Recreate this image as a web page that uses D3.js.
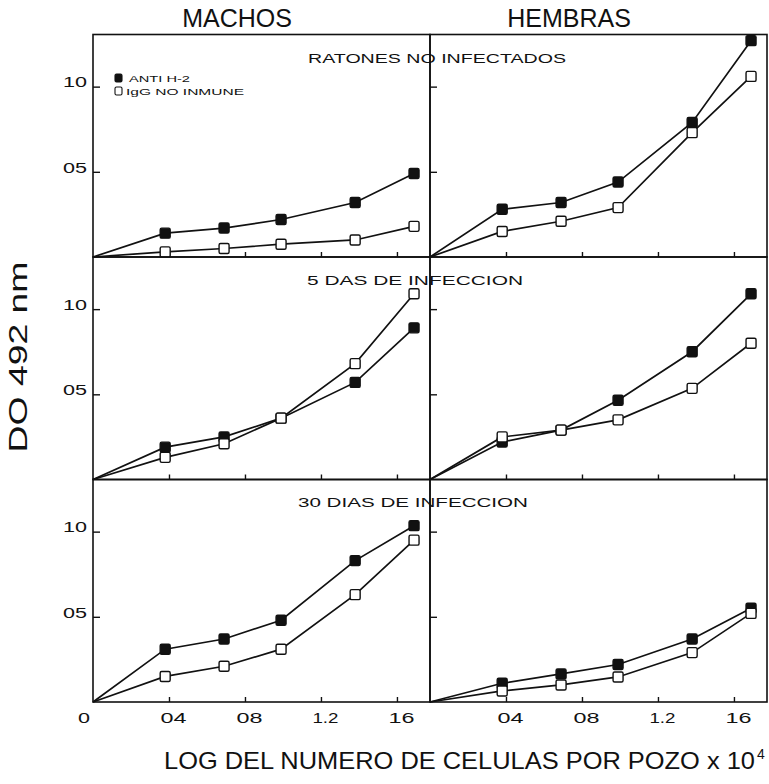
<!DOCTYPE html>
<html lang="es">

<head>
    <title>DO 492 nm</title>
    <meta charset="utf-8" />
    <script src="https://d3js.org/d3.v7.min.js"></script>
    <style>
        body,
        html {
            margin: 0;
            padding: 0;
            background: #fff;
            overflow: hidden;
        }

        text {
            font-family: "Liberation Sans", Arial, sans-serif;
            fill: #111;
        }

        .frame {
            fill: none;
            stroke: #111;
            stroke-width: 1.6px;
        }

        .serie {
            fill: none;
            stroke: #111;
            stroke-width: 1.7px;
        }
    </style>
</head>

<body>
    <div id="chart"></div>
    <script>
        // datos
        const columnTitles = ["MACHOS", "HEMBRAS"];
        const rowTitles = ["RATONES  NO  INFECTADOS", "5  DAS  DE  INFECCION", "30  DIAS  DE  INFECCION"];
        const legendLabels = ["ANTI H-2", "IgG NO INMUNE"];

        // log del numero de celulas (el primer punto es el origen)
        const logCells = [0, 0.38, 0.69, 0.99, 1.38, 1.69];

        const xTicks = [0.4, 0.8, 1.2, 1.6];
        const xTickLabels = ["04", "08", "1.2", "16"];
        const yTicks = [0.5, 1.0];
        const yTickLabels = ["05", "10"];

        // ANTI H-2 (cuadros negros) / IgG no inmune (cuadros blancos)
        const antiMachosNoInf = [0, 0.14, 0.17, 0.22, 0.32, 0.49];
        const iggMachosNoInf = [0, 0.03, 0.05, 0.075, 0.10, 0.18];
        const antiHembrasNoInf = [0, 0.28, 0.32, 0.44, 0.79, 1.27];
        const iggHembrasNoInf = [0, 0.15, 0.21, 0.29, 0.73, 1.06];

        const antiMachos5d = [0, 0.19, 0.25, 0.36, 0.57, 0.89];
        const iggMachos5d = [0, 0.13, 0.21, 0.36, 0.68, 1.09];
        const antiHembras5d = [0, 0.22, 0.29, 0.465, 0.75, 1.09];
        const iggHembras5d = [0, 0.25, 0.29, 0.35, 0.535, 0.80];

        const antiMachos30d = [0, 0.31, 0.37, 0.48, 0.83, 1.035];
        const iggMachos30d = [0, 0.15, 0.21, 0.31, 0.63, 0.95];
        const antiHembras30d = [0, 0.11, 0.165, 0.22, 0.37, 0.55];
        const iggHembras30d = [0, 0.065, 0.10, 0.147, 0.29, 0.52];

        const panels = [
            [[antiMachosNoInf, iggMachosNoInf], [antiHembrasNoInf, iggHembrasNoInf]],
            [[antiMachos5d, iggMachos5d], [antiHembras5d, iggHembras5d]],
            [[antiMachos30d, iggMachos30d], [antiHembras30d, iggHembras30d]],
        ];

        const width = 769;
        const height = 784;
        const marginLeft = 93, marginTop = 34.5;
        const panelW = 337, panelH = 222.5;

        const svg = d3.select("#chart").append("svg")
            .attr("width", width)
            .attr("height", height);

        const x = d3.scaleLinear().domain([0, 1.774]).range([0, panelW]);
        const y = d3.scaleLinear().domain([0, 1.306]).range([panelH, 0]);

        const line = d3.line()
            .x((d, i) => x(logCells[i]))
            .y(d => y(d));

        panels.forEach((row, r) => {
            row.forEach((series, c) => {
                const g = svg.append("g")
                    .attr("transform", `translate(${marginLeft + c * panelW},${marginTop + r * panelH})`);

                // ticks hacia adentro
                const xAxis = g.append("g")
                    .attr("transform", `translate(0,${panelH})`)
                    .call(d3.axisBottom(x).tickValues(xTicks).tickSize(-5)
                        .tickFormat((d, i) => xTickLabels[i]));
                const yAxis = g.append("g")
                    .call(d3.axisLeft(y).tickValues(yTicks).tickSize(-7).tickPadding(6)
                        .tickFormat((d, i) => yTickLabels[i]));
                [xAxis, yAxis].forEach(a => {
                    a.select(".domain").remove();
                    a.selectAll("line").attr("stroke", "#111").attr("stroke-width", 1.4);
                });

                if (r === 2) {
                    xAxis.selectAll("text")
                        .attr("x", 4)
                        .attr("y", 21).attr("dy", null)
                        .attr("textLength", 26)
                        .attr("lengthAdjust", "spacingAndGlyphs")
                        .style("font-size", "14px");
                } else {
                    xAxis.selectAll("text").remove();
                }
                if (c === 0) {
                    yAxis.selectAll("text")
                        .attr("dy", "0.02em")
                        .attr("textLength", 24)
                        .attr("lengthAdjust", "spacingAndGlyphs")
                        .style("font-size", "14px");
                } else {
                    yAxis.selectAll("text").remove();
                }

                g.append("rect")
                    .attr("class", "frame")
                    .attr("width", panelW)
                    .attr("height", panelH);

                series.forEach((vals, s) => {
                    g.append("path")
                        .attr("class", "serie")
                        .attr("d", line(vals));
                    g.selectAll(null)
                        .data(vals.slice(1))
                        .enter().append("rect")
                        .attr("x", (d, i) => x(logCells[i + 1]) - 5)
                        .attr("y", d => y(d) - 5)
                        .attr("width", 10)
                        .attr("height", 10)
                        .attr("rx", 1.5)
                        .attr("fill", s === 0 ? "#111" : "#fff")
                        .attr("stroke", "#111")
                        .attr("stroke-width", 1.4);
                });
            });
        });

        // origen
        svg.append("text")
            .attr("x", 84)
            .attr("y", 723)
            .attr("text-anchor", "middle")
            .attr("textLength", 12)
            .attr("lengthAdjust", "spacingAndGlyphs")
            .style("font-size", "15px")
            .text("0");

        // titulos de columna
        const columnCenters = [237, 569];
        columnTitles.forEach((t, c) => {
            svg.append("text")
                .attr("x", columnCenters[c])
                .attr("y", 27)
                .attr("text-anchor", "middle")
                .style("font-size", "25px")
                .text(t);
        });

        // titulos de fila (cruzan la division)
        const rowTitlePos = [[308, 63, 258], [307, 285, 216], [298, 507, 230]];
        rowTitles.forEach((t, r) => {
            svg.append("text")
                .attr("x", rowTitlePos[r][0])
                .attr("y", rowTitlePos[r][1])
                .attr("textLength", rowTitlePos[r][2])
                .attr("lengthAdjust", "spacingAndGlyphs")
                .style("font-size", "12.5px")
                .text(t);
        });

        // leyenda
        const legendPos = [[118.5, 78, 129, 82, 61], [118.5, 91, 126, 95, 118]];
        legendLabels.forEach((t, i) => {
            const p = legendPos[i];
            svg.append("rect")
                .attr("x", p[0] - 3.5).attr("y", p[1] - 4)
                .attr("width", 7).attr("height", 8)
                .attr("rx", 1.5)
                .attr("fill", i === 0 ? "#111" : "#fff")
                .attr("stroke", "#111")
                .attr("stroke-width", 1.1);
            svg.append("text")
                .attr("x", p[2])
                .attr("y", p[3])
                .attr("textLength", p[4])
                .attr("lengthAdjust", "spacingAndGlyphs")
                .style("font-size", "9.5px")
                .text(t);
        });

        // titulo eje y
        svg.append("text")
            .attr("transform", "translate(27,357) rotate(-90)")
            .attr("text-anchor", "middle")
            .attr("textLength", 191)
            .attr("lengthAdjust", "spacingAndGlyphs")
            .style("font-size", "25px")
            .text("DO  492  nm");

        // titulo eje x
        svg.append("text")
            .attr("x", 164)
            .attr("y", 769)
            .attr("textLength", 591)
            .attr("lengthAdjust", "spacingAndGlyphs")
            .style("font-size", "24px")
            .text("LOG DEL NUMERO DE CELULAS POR POZO x 10");
        svg.append("text")
            .attr("x", 757)
            .attr("y", 759)
            .style("font-size", "14px")
            .text("4");
    </script>
</body>

</html>
